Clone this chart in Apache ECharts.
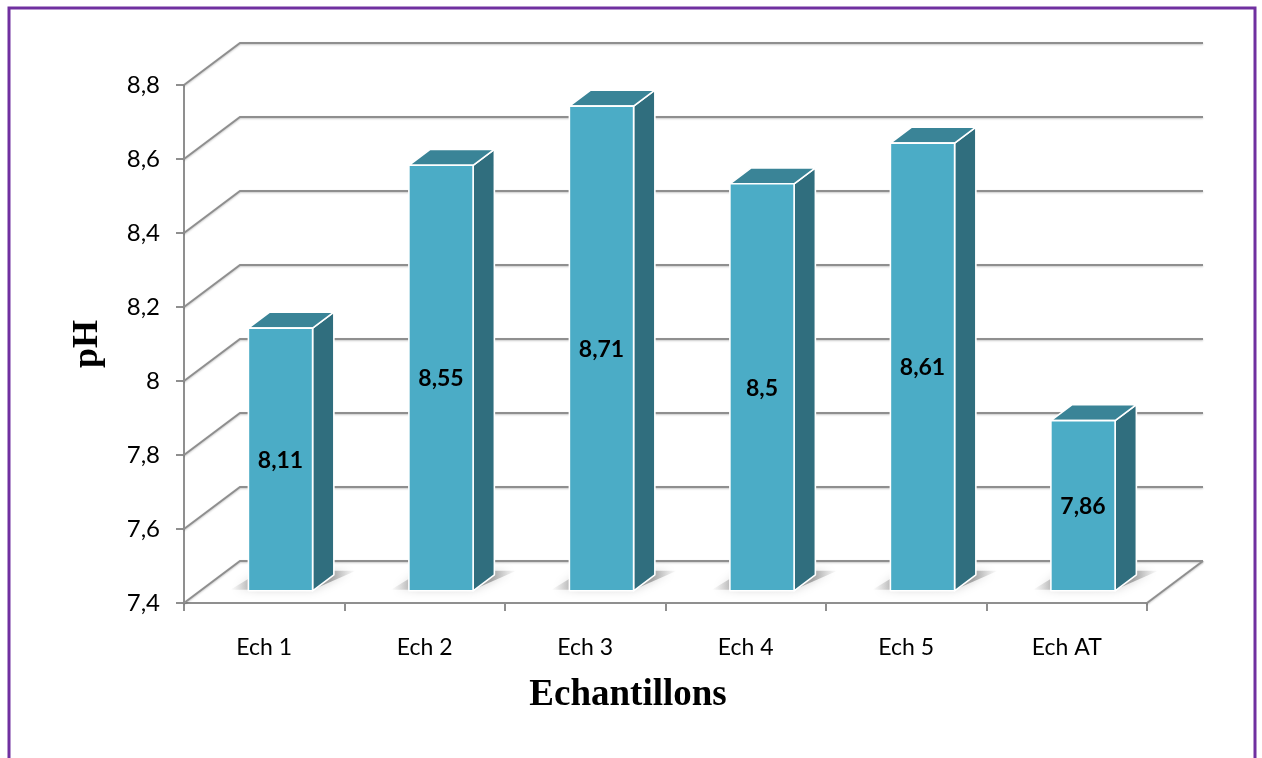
<!DOCTYPE html>
<html>
<head>
<meta charset="utf-8">
<title>pH des échantillons</title>
<script src="https://cdn.jsdelivr.net/npm/echarts@6/dist/echarts.min.js"></script>
<style>
  html, body { margin: 0; padding: 0; background: #ffffff; }
  #chart { width: 1262px; height: 758px; }
</style>
</head>
<body>
<div id="chart"></div>
<script>
// ---- data ----
const categories = ['Ech 1', 'Ech 2', 'Ech 3', 'Ech 4', 'Ech 5', 'Ech AT'];
const phValues = [8.11, 8.55, 8.71, 8.5, 8.61, 7.86];
const yTicks = [7.4, 7.6, 7.8, 8.0, 8.2, 8.4, 8.6, 8.8];
const Y_MIN = 7.4;
const Y_MAX = 8.8;
const Y_STEP = 0.2;

// ---- 3D look ----
const DEPTH = [56, -42];          // offset from front plane to back wall
const BAR_FRONT = 0.29;           // bar front face depth (fraction of DEPTH)
const BAR_BACK = 0.67;            // bar back face depth
const BAR_HALF = 0.2;             // half bar width as fraction of the band
const GRID_COLOR = '#8f8f8f';
const FACE_FRONT = '#4bacc6';
const FACE_TOP = '#3a8497';
const FACE_SIDE = '#306e7e';

const comma = v => String(v).replace('.', ',');

function renderWall(params, api) {
  const cs = params.coordSys;
  const y = api.coord([0, api.value(1)])[1];
  const xl = cs.x, xr = cs.x + cs.width;
  const lineStyle = {
    stroke: GRID_COLOR, lineWidth: 2, fill: null,
    shadowColor: 'rgba(0,0,0,0.22)', shadowBlur: 2, shadowOffsetY: 1
  };
  const children = [{
    type: 'polyline',
    shape: { points: [[xl, y], [xl + DEPTH[0], y + DEPTH[1]], [xr + DEPTH[0], y + DEPTH[1]]] },
    style: lineStyle
  }];
  if (params.dataIndex === 0) {
    // right edge of the floor
    children.push({
      type: 'line',
      shape: { x1: xr, y1: y, x2: xr + DEPTH[0], y2: y + DEPTH[1] },
      style: lineStyle
    });
  }
  return { type: 'group', children };
}

function renderBar(params, api) {
  const i = api.value(0);
  const v = api.value(1);
  const top = api.coord([i, v]);
  const base = api.coord([i, Y_MIN]);
  const band = api.size([1, 0])[0];
  const fx = DEPTH[0] * BAR_FRONT, fy = DEPTH[1] * BAR_FRONT;
  const dx = DEPTH[0] * (BAR_BACK - BAR_FRONT), dy = DEPTH[1] * (BAR_BACK - BAR_FRONT);
  const hw = band * BAR_HALF;
  const x0 = top[0] + fx - hw, x1 = top[0] + fx + hw;
  const yT = top[1] + fy, yB = base[1] + fy;
  const edge = { stroke: '#ffffff', lineWidth: 1.6, lineJoin: 'round' };

  return {
    type: 'group',
    children: [
      { // soft shadow on the floor
        type: 'polygon',
        shape: { points: [[x0 - 18, yB - 1], [x1, yB - 1], [x1 + dx + 22, yB + dy - 4], [x0 + dx - 8, yB + dy - 4]] },
        style: {
          fill: {
            type: 'linear', x: 0, y: 0, x2: 1, y2: 0,
            colorStops: [
              { offset: 0, color: 'rgba(110,110,110,0.0)' },
              { offset: 0.22, color: 'rgba(100,100,100,0.55)' },
              { offset: 0.8, color: 'rgba(100,100,100,0.5)' },
              { offset: 1, color: 'rgba(110,110,110,0.0)' }
            ]
          },
          shadowColor: 'rgba(100,100,100,0.55)', shadowBlur: 10
        }
      },
      { // side face
        type: 'polygon',
        shape: { points: [[x1, yT], [x1 + dx, yT + dy], [x1 + dx, yB + dy], [x1, yB]] },
        style: Object.assign({ fill: FACE_SIDE }, edge)
      },
      { // top face
        type: 'polygon',
        shape: { points: [[x0, yT], [x1, yT], [x1 + dx, yT + dy], [x0 + dx, yT + dy]] },
        style: Object.assign({ fill: FACE_TOP }, edge)
      },
      { // front face
        type: 'polygon',
        shape: { points: [[x0, yT], [x1, yT], [x1, yB], [x0, yB]] },
        style: Object.assign({ fill: FACE_FRONT }, edge)
      },
      { // value label
        type: 'text',
        x: (x0 + x1) / 2,
        y: (yT + yB) / 2 + 1,
        style: {
          text: comma(v),
          fill: '#000000',
          font: 'bold 23px Lato, "Open Sans", sans-serif',
          align: 'center',
          verticalAlign: 'middle'
        }
      }
    ]
  };
}

const chart = echarts.init(document.getElementById('chart'), null, { renderer: 'canvas' });

chart.setOption({
  backgroundColor: '#ffffff',
  animation: false,
  grid: { left: 184, right: 115, top: 85, bottom: 155, containLabel: false },
  xAxis: {
    type: 'category',
    data: categories,
    axisLine: { show: true, lineStyle: { color: GRID_COLOR, width: 2 } },
    axisTick: { show: true, length: 8, lineStyle: { color: GRID_COLOR, width: 2 } },
    axisLabel: { margin: 33, fontFamily: 'Lato, "Open Sans", sans-serif', fontSize: 23, color: '#000000' },
    splitLine: { show: false }
  },
  yAxis: {
    type: 'value',
    min: Y_MIN,
    max: Y_MAX,
    interval: Y_STEP,
    name: 'pH',
    nameLocation: 'middle',
    nameGap: 78,
    nameTextStyle: {
      fontFamily: '"Liberation Serif", "DejaVu Serif", serif',
      fontWeight: 'bold', fontSize: 36, color: '#000000'
    },
    axisLine: { show: true, lineStyle: { color: GRID_COLOR, width: 2 } },
    axisTick: { show: true, length: 8, lineStyle: { color: GRID_COLOR, width: 2 } },
    axisLabel: {
      margin: 24,
      fontFamily: 'Lato, "Open Sans", sans-serif', fontSize: 24, color: '#000000',
      formatter: v => comma(+v.toFixed(1))
    },
    splitLine: { show: false }
  },
  graphic: [
    {
      type: 'rect',
      shape: { x: 9, y: 8, width: 1246, height: 800 },
      style: { fill: null, stroke: '#7030a0', lineWidth: 3 },
      silent: true
    },
    { // x-axis title
      type: 'text',
      x: 628,
      y: 695,
      style: {
        text: 'Echantillons',
        fill: '#000000',
        font: 'bold 37px "Liberation Serif", "DejaVu Serif", serif',
        align: 'center',
        verticalAlign: 'middle'
      },
      silent: true
    }
  ],
  series: [
    {
      type: 'custom',
      name: 'walls',
      z: 1,
      clip: false,
      silent: true,
      renderItem: renderWall,
      data: yTicks.map(v => [0, v])
    },
    {
      type: 'custom',
      name: 'pH',
      z: 3,
      clip: false,
      renderItem: renderBar,
      encode: { x: 0, y: 1 },
      data: phValues.map((v, i) => [i, v])
    }
  ]
});
</script>
</body>
</html>
